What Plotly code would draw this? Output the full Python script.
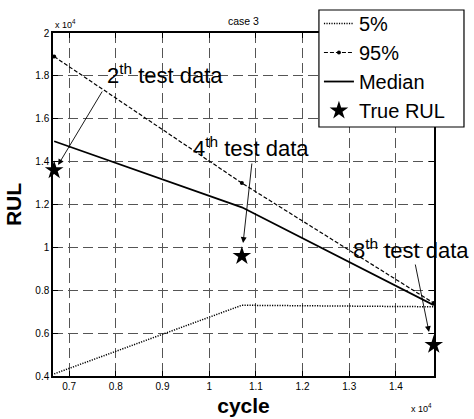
import plotly.graph_objects as go

# Test-data cycles and RUL prognosis band (cycles, RUL in cycles)
cycles = [6680, 10700, 14810]
rul_p5 = [4100, 7300, 7230]
rul_p95 = [18900, 13000, 7400]
rul_median = [14950, 11870, 7300]
rul_true = [13600, 9600, 5450]

x_ticks = [7000, 8000, 9000, 10000, 11000, 12000, 13000, 14000]
x_tick_labels = ["0.7", "0.8", "0.9", "1", "1.1", "1.2", "1.3", "1.4"]
y_ticks = [4000, 6000, 8000, 10000, 12000, 14000, 16000, 18000, 20000]
y_tick_labels = ["0.4", "0.6", "0.8", "1", "1.2", "1.4", "1.6", "1.8", "2"]

FONT = "Liberation Sans, Arial, Helvetica, sans-serif"

fig = go.Figure()
fig.add_trace(go.Scatter(x=cycles, y=rul_p5, name="5%", mode="lines",
                         line=dict(color="black", width=1.5, dash="1.2px,1.3px")))
fig.add_trace(go.Scatter(x=cycles, y=rul_p95, name="95%", mode="lines+markers",
                         line=dict(color="black", width=1.2, dash="4px,2px"),
                         marker=dict(color="black", size=4)))
fig.add_trace(go.Scatter(x=cycles, y=rul_median, name="Median", mode="lines",
                         line=dict(color="black", width=1.8)))
fig.add_trace(go.Scatter(x=cycles, y=rul_true, name="True RUL", mode="markers",
                         marker=dict(symbol="star", color="black", size=14),
                         cliponaxis=False))

axis_common = dict(
    showline=True, linecolor="black", linewidth=1.5, mirror="ticks",
    ticks="inside", ticklen=5, tickcolor="black", tickwidth=1,
    showgrid=True, gridcolor="#555555", gridwidth=1, griddash="10px,5px",
    zeroline=False, automargin=False,
    tickfont=dict(family=FONT, size=10, color="black"),
)

fig.update_xaxes(range=[6655, 14815], tickvals=x_ticks, ticktext=x_tick_labels,
                 title=dict(text="<b>cycle</b>", font=dict(family=FONT, size=21, color="black"),
                            standoff=8),
                 **axis_common)
fig.update_yaxes(range=[4000, 20000], tickvals=y_ticks, ticktext=y_tick_labels,
                 title=dict(text="<b>RUL</b>", font=dict(family=FONT, size=21, color="black"),
                            standoff=8),
                 **axis_common)

ann_font = dict(family=FONT, size=22, color="black")
labels = [
    ("2<sup>th</sup> test data", 9045, 18100, 7728, 17341, 6764, 13842),
    ("4<sup>th</sup> test data", 10897, 14700, 10918, 13982, 10726, 10204),
    ("8<sup>th</sup> test data", 14322, 9940, 14408, 9270, 14708, 6052),
]
annotations = []
for text, tx, ty, ax, ay, hx, hy in labels:
    annotations.append(dict(x=tx, y=ty, xref="x", yref="y", text=text, showarrow=False,
                            font=ann_font, xanchor="center", yanchor="middle"))
    annotations.append(dict(x=hx, y=hy, xref="x", yref="y", ax=ax, ay=ay,
                            axref="x", ayref="y", text="", showarrow=True,
                            arrowhead=2, arrowsize=1.3, arrowwidth=0.9,
                            arrowcolor="black", standoff=0))

small = dict(family=FONT, size=9, color="black")
annotations += [
    dict(x=0.5, y=1, xref="paper", yref="paper", text="case 3", showarrow=False,
         font=dict(family=FONT, size=10.5, color="black"), yanchor="middle", yshift=12),
    dict(x=0, y=1, xref="paper", yref="paper", text="x 10<sup>4</sup>", showarrow=False,
         font=small, xanchor="left", yanchor="middle", yshift=9),
    dict(x=1, y=0, xref="paper", yref="paper", text="x 10<sup>4</sup>", showarrow=False,
         font=small, xanchor="right", yanchor="top", yshift=-24),
]

# Legend frame drawn as a white box over the plot corner
legend_box = dict(type="rect", xref="paper", yref="paper",
                  x0=0.698, x1=1.0787, y0=0.726, y1=1.067,
                  fillcolor="white", line=dict(color="black", width=1.2), layer="above")

fig.update_layout(
    width=474, height=419,
    margin=dict(l=53, r=40, t=33, b=43, autoexpand=False),
    paper_bgcolor="white", plot_bgcolor="white",
    font=dict(family=FONT, color="black"),
    showlegend=True,
    legend=dict(x=0.698, y=1.0845, xanchor="left", yanchor="top",
                bgcolor="rgba(0,0,0,0)", borderwidth=0,
                font=dict(family=FONT, size=20, color="black"),
                tracegroupgap=0, itemwidth=30),
    shapes=[legend_box],
    annotations=annotations,
)

fig.write_html("out.html")
